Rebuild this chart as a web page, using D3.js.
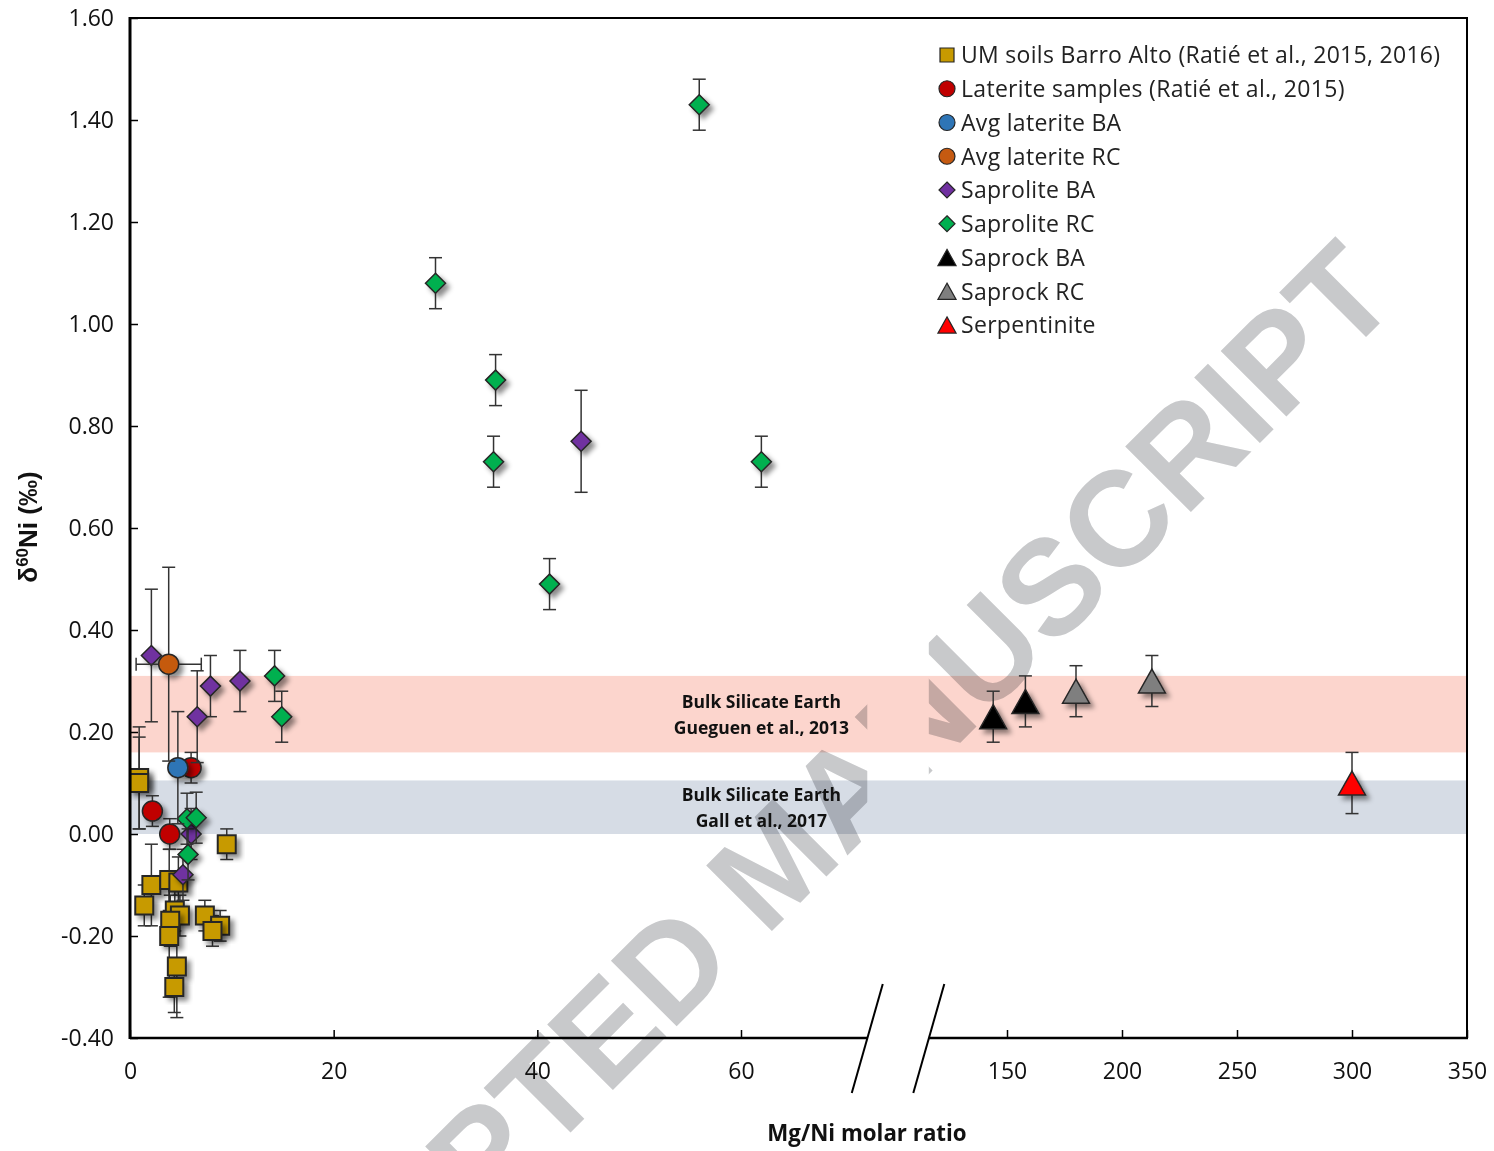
<!DOCTYPE html>
<html>
<head>
<meta charset="utf-8">
<script src="https://cdn.jsdelivr.net/npm/d3@7"></script>
<style>
  body { margin: 0; background: #fff; }
  svg { display: block; }
</style>
</head>
<body>
<svg id="chart" width="1494" height="1151"></svg>
<script>
// δ60Ni versus Mg/Ni molar ratio. Each point: [Mg/Ni, δ60Ni (‰), ± error (‰)]
const umSoils = [
  [0.9, 0.11, 0.10], [0.9, 0.10, 0.09], [2.1, -0.10, 0.08], [3.85, -0.09, 0.06],
  [4.75, -0.095, 0.05], [1.4, -0.14, 0.04], [4.4, -0.15, 0.04], [4.9, -0.16, 0.04],
  [3.95, -0.17, 0.05], [3.85, -0.20, 0.12], [7.35, -0.16, 0.03], [8.85, -0.18, 0.03],
  [8.1, -0.19, 0.03], [4.6, -0.26, 0.10], [4.35, -0.30, 0.05], [9.5, -0.02, 0.03]
];
const lateriteSamples = [[6.0, 0.13, 0.03], [2.2, 0.045, 0.03], [3.9, 0.0, 0.03]];
const avgLateriteBA = [[4.7, 0.13, 0.11]];
const avgLateriteRC = [[3.8, 0.333, 0.19]];
const avgLateriteRCxErr = [3.2];
const saproliteBA = [
  [2.1, 0.35, 0.13], [7.9, 0.29, 0.06], [6.6, 0.23, 0.09], [10.8, 0.30, 0.06],
  [44.3, 0.77, 0.10], [6.0, 0.0, 0.05], [5.2, -0.08, 0.05]
];
const saproliteRC = [
  [14.2, 0.31, 0.05], [14.9, 0.23, 0.05], [30.0, 1.08, 0.05], [35.9, 0.89, 0.05],
  [35.7, 0.73, 0.05], [41.2, 0.49, 0.05], [55.9, 1.43, 0.05], [62.0, 0.73, 0.05],
  [5.6, 0.03, 0.05], [6.5, 0.032, 0.05], [5.7, -0.04, 0.05]
];
const saprockBA = [[144, 0.23, 0.05], [158, 0.26, 0.05]];
const saprockRC = [[180, 0.28, 0.05], [213, 0.30, 0.05]];
const serpentinite = [[300, 0.10, 0.06]];

// Reference ranges for the bulk silicate Earth
const bseGueguen = [0.16, 0.31];
const bseGall = [0.0, 0.105];
const bseGueguenLabel = ["Bulk Silicate Earth", "Gueguen et al., 2013"];
const bseGallLabel = ["Bulk Silicate Earth", "Gall et al., 2017"];

// Axes
const yTicks = [-0.4, -0.2, 0, 0.2, 0.4, 0.6, 0.8, 1.0, 1.2, 1.4, 1.6];
const xTicksLow = [0, 20, 40, 60];
const xTicksHigh = [150, 200, 250, 300, 350];
const breakLow = 72.4;   // last value of the left segment
const breakHigh = 116;   // first value of the right segment

const series = [
  { name: "UM soils Barro Alto (Ratié et al., 2015, 2016)", data: umSoils, shape: "square", fill: "#c79a00" },
  { name: "Laterite samples (Ratié et al., 2015)", data: lateriteSamples, shape: "circle", fill: "#c00000" },
  { name: "Avg laterite BA", data: avgLateriteBA, shape: "circle", fill: "#2e75b6" },
  { name: "Avg laterite RC", data: avgLateriteRC, shape: "circle", fill: "#c55a11", xErr: avgLateriteRCxErr },
  { name: "Saprolite BA", data: saproliteBA, shape: "diamond", fill: "#7030a0" },
  { name: "Saprolite RC", data: saproliteRC, shape: "diamond", fill: "#00b050" },
  { name: "Saprock BA", data: saprockBA, shape: "triangle", fill: "#000000" },
  { name: "Saprock RC", data: saprockRC, shape: "triangle", fill: "#7f7f7f" },
  { name: "Serpentinite", data: serpentinite, shape: "triangle", fill: "#ff0000" }
];
const drawOrder = [0, 1, 4, 5, 2, 3, 6, 7, 8];

// ---- layout ----
const plot = { left: 130, right: 1467, top: 18, bottom: 1038 };
const svg = d3.select("#chart");
const uiFont = "'Open Sans', Lato, sans-serif";

const xLow = d3.scaleLinear().domain([0, 60]).range([130, 741]);
const xHigh = d3.scaleLinear().domain([150, 350]).range([1007, 1467]);
const x = v => (v <= breakLow ? xLow(v) : xHigh(v));
const y = d3.scaleLinear().domain([-0.4, 1.6]).range([plot.bottom, plot.top]);

const lowEnd = xLow(breakLow);
const highStart = xHigh(breakHigh);

// marker shapes
const diamond = { draw(ctx, size) { const r = Math.sqrt(size / 2);
  ctx.moveTo(0, -r); ctx.lineTo(r, 0); ctx.lineTo(0, r); ctx.lineTo(-r, 0); ctx.closePath(); } };
const triangle = { draw(ctx, size) { const w = Math.sqrt(size) * 0.74, h = Math.sqrt(size) * 0.66;
  ctx.moveTo(0, -h); ctx.lineTo(w, h); ctx.lineTo(-w, h); ctx.closePath(); } };
const shapeType = { square: d3.symbolSquare, circle: d3.symbolCircle, diamond: diamond, triangle: triangle };
const plotSize = { square: 18 * 18, circle: Math.PI * 100, diamond: 200, triangle: 330 };
const legendSize = { square: 14 * 14, circle: Math.PI * 64, diamond: 128, triangle: 150 };

const defs = svg.append("defs");
const shadow = defs.append("filter").attr("id", "shadow")
  .attr("x", "-50%").attr("y", "-50%").attr("width", "200%").attr("height", "200%");
shadow.append("feDropShadow").attr("dx", 4).attr("dy", 4).attr("stdDeviation", 2.6)
  .attr("flood-color", "#000").attr("flood-opacity", 0.45);

// ---- watermark (underneath the chart) ----
svg.append("text")
  .attr("transform", "translate(808,895) rotate(-45)")
  .attr("text-anchor", "middle")
  .attr("font-family", "'Liberation Sans', Arial, sans-serif")
  .attr("font-weight", "bold")
  .attr("font-size", 135)
  .attr("fill", "#c8c9cb")
  .text("ACCEPTED MANUSCRIPT");

// white strip behind the axis break
svg.append("rect")
  .attr("x", lowEnd).attr("y", plot.top + 1)
  .attr("width", highStart - lowEnd).attr("height", plot.bottom - plot.top - 2)
  .attr("fill", "#fff");

// ---- reference bands ----
const bandG = svg.append("g");
[[bseGueguen, "#fcd5cd", bseGueguenLabel], [bseGall, "#d6dce5", bseGallLabel]].forEach(([r, col, label]) => {
  bandG.append("rect")
    .attr("x", plot.left).attr("width", plot.right - plot.left)
    .attr("y", y(r[1])).attr("height", y(r[0]) - y(r[1]))
    .attr("fill", col).style("mix-blend-mode", "multiply");
  const cy = (y(r[0]) + y(r[1])) / 2;
  const t = bandG.append("text")
    .attr("x", xLow(62)).attr("y", cy)
    .attr("text-anchor", "middle")
    .attr("font-family", uiFont)
    .attr("font-weight", "bold").attr("font-size", 17.5).attr("fill", "#111");
  label.forEach((s, i) => t.append("tspan").attr("x", xLow(62)).attr("dy", i === 0 ? -6 : 26).text(s));
});

// ---- error bars and markers ----
const cap = 6.5;
const dataG = svg.append("g");
drawOrder.forEach(si => {
  const s = series[si];
  const g = dataG.append("g");
  s.data.forEach((d, i) => {
    const cx = x(d[0]);
    const eb = g.append("g").attr("stroke", "#333").attr("stroke-width", 1.5).attr("fill", "none");
    const y1 = y(d[1] + d[2]), y2 = y(d[1] - d[2]);
    eb.append("line").attr("x1", cx).attr("x2", cx).attr("y1", y1).attr("y2", y2);
    eb.append("line").attr("x1", cx - cap).attr("x2", cx + cap).attr("y1", y1).attr("y2", y1);
    eb.append("line").attr("x1", cx - cap).attr("x2", cx + cap).attr("y1", y2).attr("y2", y2);
    if (s.xErr) {
      const xa = x(d[0] - s.xErr[i]), xb = x(d[0] + s.xErr[i]), cy = y(d[1]);
      eb.append("line").attr("x1", xa).attr("x2", xb).attr("y1", cy).attr("y2", cy);
      eb.append("line").attr("x1", xa).attr("x2", xa).attr("y1", cy - cap).attr("y2", cy + cap);
      eb.append("line").attr("x1", xb).attr("x2", xb).attr("y1", cy - cap).attr("y2", cy + cap);
    }
  });
  g.selectAll("path.mark").data(s.data).join("path")
    .attr("class", "mark")
    .attr("transform", d => `translate(${x(d[0])},${y(d[1])})`)
    .attr("d", d3.symbol(shapeType[s.shape], plotSize[s.shape]))
    .attr("fill", s.fill)
    .attr("stroke", "#262626").attr("stroke-width", s.shape === "square" ? 2 : 1.5)
    .attr("filter", "url(#shadow)");
});

// ---- axes ----
const tickFontSize = 23;
const yAxis = svg.append("g").attr("transform", `translate(${plot.left},0)`)
  .call(d3.axisLeft(y).tickValues(yTicks).tickSize(-8).tickSizeOuter(0).tickPadding(16)
    .tickFormat(d => d.toFixed(2)));
yAxis.select(".domain").remove();
yAxis.selectAll("line").attr("stroke", "#000").attr("stroke-width", 1.5);
yAxis.selectAll("text").attr("font-family", uiFont).attr("font-size", tickFontSize).attr("fill", "#111");

function bottomAxis(scale, ticks) {
  const g = svg.append("g").attr("transform", `translate(0,${plot.bottom})`)
    .call(d3.axisBottom(scale).tickValues(ticks).tickSize(-8).tickSizeOuter(0).tickPadding(25)
      .tickFormat(d3.format("d")));
  g.select(".domain").remove();
  g.selectAll("line").attr("stroke", "#000").attr("stroke-width", 1.5);
  g.selectAll("text").attr("font-family", uiFont).attr("font-size", tickFontSize).attr("fill", "#111");
}
bottomAxis(xLow, xTicksLow);
bottomAxis(xHigh, xTicksHigh);

const frame = svg.append("g").attr("stroke", "#000").attr("fill", "none");
frame.append("line").attr("x1", plot.left).attr("x2", plot.left)
  .attr("y1", plot.top - 1).attr("y2", plot.bottom + 1).attr("stroke-width", 3);
frame.append("line").attr("x1", plot.left).attr("x2", plot.right + 1)
  .attr("y1", plot.top).attr("y2", plot.top).attr("stroke-width", 2);
frame.append("line").attr("x1", plot.right).attr("x2", plot.right)
  .attr("y1", plot.top).attr("y2", plot.bottom + 1).attr("stroke-width", 2);
frame.append("line").attr("x1", plot.left).attr("x2", lowEnd)
  .attr("y1", plot.bottom).attr("y2", plot.bottom).attr("stroke-width", 2.5);
frame.append("line").attr("x1", highStart).attr("x2", plot.right + 1)
  .attr("y1", plot.bottom).attr("y2", plot.bottom).attr("stroke-width", 2.5);
// break marks
[lowEnd, highStart].forEach(bx => {
  frame.append("line").attr("x1", bx - 15.5).attr("y1", plot.bottom + 55)
    .attr("x2", bx + 15.5).attr("y2", plot.bottom - 54).attr("stroke-width", 2);
});

// axis titles
svg.append("text").attr("x", 867).attr("y", 1141).attr("text-anchor", "middle")
  .attr("font-family", uiFont).attr("font-weight", "bold")
  .attr("font-size", 22.3).attr("fill", "#111").text("Mg/Ni molar ratio");
const yt = svg.append("text").attr("transform", "translate(37,527) rotate(-90)")
  .attr("text-anchor", "middle")
  .attr("font-family", "'Liberation Sans Narrow', 'Arial Narrow', 'Liberation Sans', sans-serif")
  .attr("font-weight", "bold").attr("font-size", 26).attr("fill", "#111");
yt.append("tspan").text("δ");
yt.append("tspan").attr("font-size", 17).attr("dy", -9).text("60");
yt.append("tspan").attr("dy", 9).text("Ni (‰)");

// ---- legend ----
const legend = svg.append("g").attr("transform", "translate(947,55)");
series.forEach((s, i) => {
  const row = legend.append("g").attr("transform", `translate(0,${i * 33.75})`);
  row.append("path").attr("d", d3.symbol(shapeType[s.shape], legendSize[s.shape]))
    .attr("fill", s.fill).attr("stroke", "#262626").attr("stroke-width", 1.2);
  row.append("text").attr("x", 14).attr("y", 0).attr("dy", "0.36em")
    .attr("font-family", uiFont).attr("font-size", 23).attr("letter-spacing", 0.3)
    .attr("fill", "#222").text(s.name);
});
</script>
</body>
</html>
